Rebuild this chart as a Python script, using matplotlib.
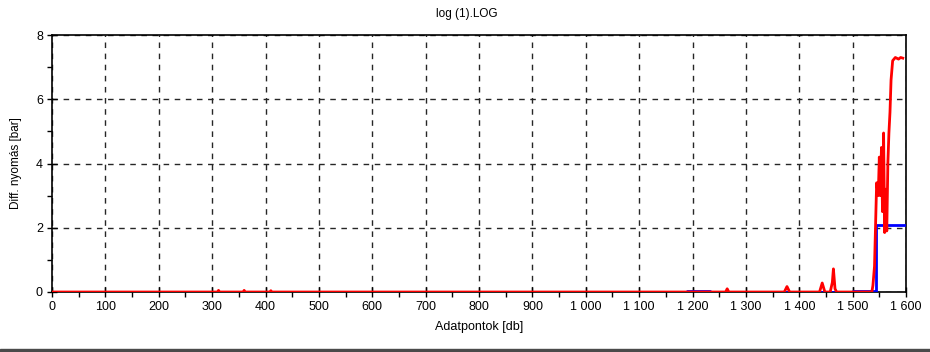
import matplotlib
matplotlib.use("Agg")
import matplotlib.pyplot as plt
from matplotlib.ticker import MultipleLocator, FuncFormatter
from matplotlib.patches import Rectangle

plt.rcParams['font.family'] = ['Liberation Sans', 'DejaVu Sans']

# Red series (breakpoints)
red_x = [0, 310, 312, 314, 358, 360, 362, 408, 410, 412,
         1262, 1265, 1268, 1372, 1377, 1382, 1438, 1443, 1448,
         1458, 1462, 1464, 1467, 1470, 1536,
         1538, 1541, 1543, 1545, 1548, 1550, 1552, 1554, 1556, 1558,
         1560, 1562, 1564, 1566, 1568, 1570, 1572, 1575, 1580, 1586, 1590, 1594]
red_y = [0.0, 0.0, 0.05, 0.0, 0.0, 0.05, 0.0, 0.0, 0.04, 0.0,
         0.0, 0.1, 0.0, 0.0, 0.17, 0.0, 0.0, 0.28, 0.0,
         0.0, 0.3, 0.72, 0.1, 0.0, 0.0,
         0.2, 0.8, 2.1, 3.4, 3.0, 4.2, 3.0, 4.5, 2.5, 4.95,
         1.85, 3.2, 1.9, 4.0, 4.95, 5.6, 6.6, 7.2, 7.3, 7.25, 7.3, 7.28]

# Blue series
blue_x = [0, 1190, 1190, 1232, 1232, 1500, 1500, 1542, 1543, 1543, 1596]
blue_y = [0.0, 0.0, 0.03, 0.03, 0.0, 0.0, 0.03, 0.03, 0.03, 2.1, 2.1]

x_ticks = list(range(0, 1700, 100))
y_ticks = [0, 2, 4, 6, 8]

fig = plt.figure(figsize=(9.3, 3.52), dpi=100)
ax = fig.add_axes([52/930, 1 - 292/352, (906 - 52)/930, (292 - 35)/352])

ax.plot(blue_x, blue_y, color='#0000ff', lw=2.0, zorder=3)
ax.plot(red_x, red_y, color='#ff0000', lw=2.0, zorder=4)

ax.set_xlim(0, 1600)
ax.set_ylim(0, 8)
ax.set_xticks(x_ticks)
ax.set_yticks(y_ticks)
ax.xaxis.set_minor_locator(MultipleLocator(50))
ax.yaxis.set_minor_locator(MultipleLocator(1))
ax.xaxis.set_major_formatter(FuncFormatter(lambda v, p: f"{int(v):,}".replace(",", " ")))

ax.grid(True, which='major', color='0.15', ls=(0, (4, 4)), lw=1.0)
ax.tick_params(which='major', direction='inout', length=7, width=1, labelsize=9, pad=3)
ax.tick_params(which='minor', direction='out', length=3.5, width=1)
for s in ax.spines.values():
    s.set_linewidth(1.2)

ax.set_xlabel("Adatpontok [db]", fontsize=9, labelpad=6)
ax.set_ylabel("Diff. nyomás [bar]", fontsize=8.5, labelpad=10)
fig.text(467/930, 1 - 14/352, "log (1).LOG", ha='center', va='center', fontsize=8.5)

fig.add_artist(Rectangle((0, 0), 1, 3/352, transform=fig.transFigure, color='#4a4a4a'))

fig.savefig("out.png", dpi=100)
